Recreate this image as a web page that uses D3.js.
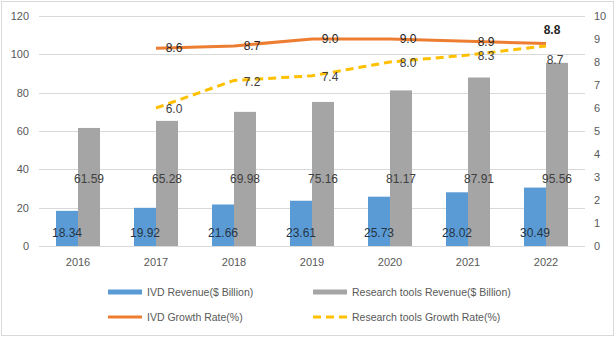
<!DOCTYPE html>
<html>
<head>
<meta charset="utf-8">
<script src="https://cdn.jsdelivr.net/npm/d3@7"></script>
<style>
  body { margin: 0; background: #fff; }
</style>
</head>
<body>
<div id="wrapper"></div>
<script>
// data
const years = ["2016", "2017", "2018", "2019", "2020", "2021", "2022"]
const ivdRevenue = [18.34, 19.92, 21.66, 23.61, 25.73, 28.02, 30.49]
const toolsRevenue = [61.59, 65.28, 69.98, 75.16, 81.17, 87.91, 95.56]
const ivdGrowth = [null, 8.6, 8.7, 9.0, 9.0, 8.9, 8.8]
const toolsGrowth = [null, 6.0, 7.2, 7.4, 8.0, 8.3, 8.7]
const leftTicks = [0, 20, 40, 60, 80, 100, 120]
const rightTicks = [0, 1, 2, 3, 4, 5, 6, 7, 8, 9, 10]

const width = 616
const height = 341

const marginTop = 16
const marginLeft = 39
const plotRight = 585
const plotBottom = 246

const font = "'Liberation Sans', Arial, sans-serif"

const svg = d3.select("#wrapper").append("svg")
    .attr("width", width)
    .attr("height", height)
    .style("font-family", font)

// outer border
svg.append("rect")
    .attr("x", 1.5).attr("y", 1.5)
    .attr("width", width - 4).attr("height", height - 7)
    .attr("fill", "#fff")
    .attr("stroke", "#d9d9d9")

const x = d3.scaleBand()
    .domain(years)
    .range([marginLeft, plotRight])

const yL = d3.scaleLinear().domain([0, 120]).range([plotBottom, marginTop])
const yR = d3.scaleLinear().domain([0, 10]).range([plotBottom, marginTop])

// gridlines
svg.append("g")
    .selectAll("line")
    .data(leftTicks)
    .join("line")
    .attr("x1", marginLeft).attr("x2", plotRight)
    .attr("y1", d => Math.round(yL(d)) + 0.5)
    .attr("y2", d => Math.round(yL(d)) + 0.5)
    .attr("stroke", "#d9d9d9")

// left axis
svg.append("g")
    .attr("transform", `translate(${marginLeft - 10},0)`)
    .call(d3.axisLeft(yL).tickValues(leftTicks).tickSize(0).tickPadding(0))
    .call(g => g.select(".domain").remove())
    .call(g => g.selectAll("text").attr("fill", "#595959").style("font-size", "11px").style("font-family", font))

// right axis
svg.append("g")
    .attr("transform", `translate(${plotRight + 9},0)`)
    .call(d3.axisRight(yR).tickValues(rightTicks).tickSize(0).tickPadding(0))
    .call(g => g.select(".domain").remove())
    .call(g => g.selectAll("text").attr("fill", "#595959").style("font-size", "11px").style("font-family", font))

// x axis
svg.append("g")
    .attr("transform", `translate(0,${plotBottom + 12})`)
    .call(d3.axisBottom(x).tickSize(0).tickPadding(0))
    .call(g => g.select(".domain").remove())
    .call(g => g.selectAll("text").attr("fill", "#595959").style("font-size", "11px").style("font-family", font))

const barW = 22
const cx = d => x(d) + x.bandwidth() / 2

// bars
svg.append("g")
    .selectAll("rect")
    .data(years)
    .join("rect")
    .attr("x", d => cx(d) - barW)
    .attr("width", barW)
    .attr("y", (d, i) => yL(ivdRevenue[i]))
    .attr("height", (d, i) => plotBottom - yL(ivdRevenue[i]))
    .attr("fill", "#5b9bd5")

svg.append("g")
    .selectAll("rect")
    .data(years)
    .join("rect")
    .attr("x", d => cx(d))
    .attr("width", barW)
    .attr("y", (d, i) => yL(toolsRevenue[i]))
    .attr("height", (d, i) => plotBottom - yL(toolsRevenue[i]))
    .attr("fill", "#a5a5a5")

// bar labels
svg.append("g")
    .selectAll("text")
    .data(years)
    .join("text")
    .attr("x", d => cx(d) - barW / 2)
    .attr("y", yL(7))
    .attr("dy", "0.35em")
    .attr("text-anchor", "middle")
    .attr("fill", "#263545")
    .style("font-size", "12px")
    .text((d, i) => ivdRevenue[i].toFixed(2))

svg.append("g")
    .selectAll("text")
    .data(years)
    .join("text")
    .attr("x", d => cx(d) + barW / 2)
    .attr("y", yL(35))
    .attr("dy", "0.35em")
    .attr("text-anchor", "middle")
    .attr("fill", "#404040")
    .style("font-size", "12px")
    .text((d, i) => toolsRevenue[i].toFixed(2))

// growth lines
const line = d3.line()
    .defined(d => d[1] != null)
    .x(d => cx(d[0]))
    .y(d => yR(d[1]))

svg.append("path")
    .datum(years.map((d, i) => [d, ivdGrowth[i]]))
    .attr("d", line)
    .attr("fill", "none")
    .attr("stroke", "#ed7d31")
    .attr("stroke-width", 3)

svg.append("path")
    .datum(years.map((d, i) => [d, toolsGrowth[i]]))
    .attr("d", line)
    .attr("fill", "none")
    .attr("stroke", "#ffc000")
    .attr("stroke-width", 3)
    .attr("stroke-dasharray", "8,5")

// line labels
const last = years.length - 1
svg.append("g")
    .selectAll("text")
    .data(years.filter((d, i) => ivdGrowth[i] != null))
    .join("text")
    .attr("x", d => years.indexOf(d) === last ? cx(d) + 6 : cx(d) + 18)
    .attr("y", d => years.indexOf(d) === last ? yR(ivdGrowth[last]) - 14 : yR(ivdGrowth[years.indexOf(d)]))
    .attr("dy", "0.35em")
    .attr("text-anchor", "middle")
    .attr("fill", "#262626")
    .style("font-size", "12px")
    .style("font-weight", d => years.indexOf(d) === last ? "bold" : "normal")
    .text(d => ivdGrowth[years.indexOf(d)].toFixed(1))

svg.append("g")
    .selectAll("text")
    .data(years.filter((d, i) => toolsGrowth[i] != null))
    .join("text")
    .attr("x", d => years.indexOf(d) === last ? cx(d) + 9 : cx(d) + 18)
    .attr("y", d => years.indexOf(d) === last ? yR(toolsGrowth[last]) + 14 : yR(toolsGrowth[years.indexOf(d)]) + 1)
    .attr("dy", "0.35em")
    .attr("text-anchor", "middle")
    .attr("fill", "#404040")
    .style("font-size", "12px")
    .text(d => toolsGrowth[years.indexOf(d)].toFixed(1))

// legend
const legend = [
    { name: "IVD Revenue($ Billion)", color: "#5b9bd5", kind: "bar", lx: 108, ly: 292 },
    { name: "Research tools Revenue($ Billion)", color: "#a5a5a5", kind: "bar", lx: 313, ly: 292 },
    { name: "IVD Growth Rate(%)", color: "#ed7d31", kind: "line", lx: 108, ly: 317 },
    { name: "Research tools Growth Rate(%)", color: "#ffc000", kind: "dash", lx: 313, ly: 317 }
]

const lg = svg.append("g")
    .selectAll("g")
    .data(legend)
    .join("g")
    .attr("transform", d => `translate(${d.lx},${d.ly})`)

lg.append("line")
    .attr("x1", 0).attr("x2", 34)
    .attr("stroke", d => d.color)
    .attr("stroke-width", d => d.kind === "bar" ? 5 : 3)
    .attr("stroke-dasharray", d => d.kind === "dash" ? "8,5" : null)

lg.append("text")
    .attr("x", 39)
    .attr("dy", "0.35em")
    .attr("fill", "#595959")
    .style("font-size", "10.5px")
    .text(d => d.name)
</script>
</body>
</html>
